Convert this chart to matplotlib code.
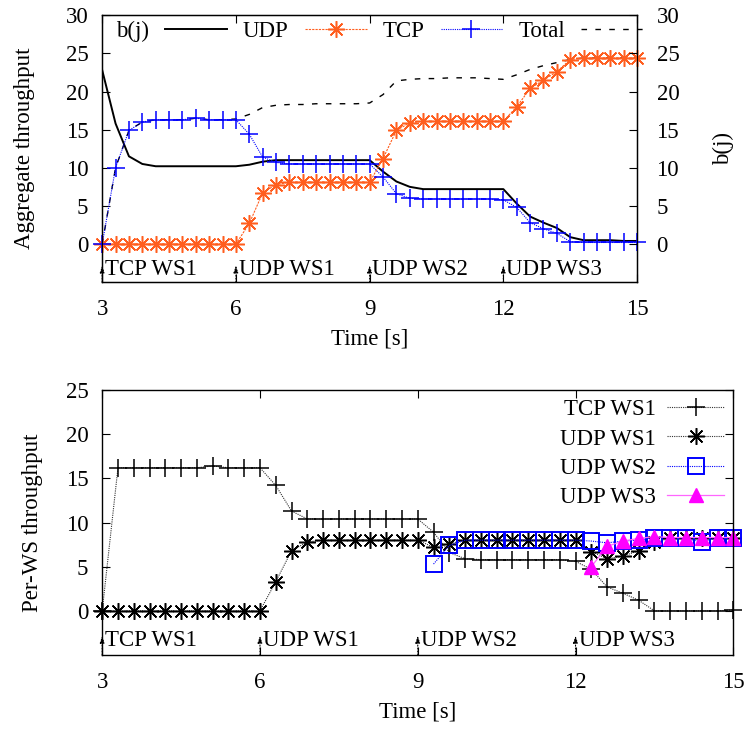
import numpy as np
import matplotlib
matplotlib.use("Agg")
import matplotlib.pyplot as plt

plt.rcParams['font.family'] = ['Liberation Serif', 'DejaVu Serif']
plt.rcParams['font.size'] = 16.5

# time samples [s]
t = np.linspace(3, 15, 41)

# aggregate throughput (top panel)
udp = [0, 0, 0, 0, 0, 0, 0, 0, 0, 0, 0,
       2.7, 6.7, 7.8, 8.1, 8.1, 8.1, 8.1, 8.1, 8.1, 8.1,
       11.2, 14.9, 15.9, 16.1, 16.1, 16.1, 16.1, 16.1, 16.1, 16.1,
       18.0, 20.4, 21.5, 22.6, 24.2, 24.4, 24.4, 24.4, 24.4, 24.4]
tcp = [0, 10.0, 14.9, 16.0, 16.3, 16.3, 16.3, 16.5, 16.3, 16.3, 16.3,
       14.4, 11.4, 10.7, 10.5, 10.5, 10.5, 10.5, 10.5, 10.5, 10.5,
       8.8, 6.6, 6.0, 5.9, 5.9, 5.9, 5.9, 5.9, 5.9, 5.8,
       4.8, 2.8, 2.0, 1.4, 0.3, 0.2, 0.2, 0.2, 0.2, 0.2]
bj = [22.8, 15.8, 11.5, 10.5, 10.2, 10.2, 10.2, 10.2, 10.2, 10.2, 10.2,
      10.4, 10.8, 11.0, 11.0, 11.0, 11.0, 11.0, 11.0, 11.0, 11.0,
      9.5, 8.2, 7.5, 7.2, 7.2, 7.2, 7.2, 7.2, 7.2, 7.2,
      5.3, 3.6, 2.8, 2.1, 0.9, 0.5, 0.5, 0.5, 0.4, 0.4]
total = [0, 10.0, 14.9, 16.0, 16.3, 16.3, 16.3, 16.5, 16.3, 16.3, 16.4,
         17.0, 17.9, 18.2, 18.3, 18.3, 18.4, 18.4, 18.4, 18.4, 18.5,
         19.6, 21.4, 21.6, 21.7, 21.7, 21.8, 21.8, 21.8, 21.7, 21.6,
         22.2, 22.9, 23.4, 23.8, 24.2, 24.4, 24.4, 24.4, 24.4, 24.4]

# per-WS throughput (bottom panel)
tcp_ws1 = [0, 16.2, 16.2, 16.2, 16.2, 16.2, 16.2, 16.4, 16.2, 16.2, 16.2,
           14.2, 11.3, 10.4, 10.4, 10.4, 10.4, 10.4, 10.4, 10.4, 10.4,
           8.9, 6.6, 5.9, 5.8, 5.8, 5.8, 5.8, 5.8, 5.8, 5.6,
           4.7, 2.7, 2.0, 1.2, 0, 0, 0, 0, 0, 0.1]
udp_ws1 = [0, 0, 0, 0, 0, 0, 0, 0, 0, 0, 0,
           3.3, 6.8, 7.8, 8.0, 8.0, 8.0, 8.0, 8.0, 8.0, 8.0,
           7.2, 7.6, 8.0, 8.0, 8.0, 8.0, 8.0, 8.0, 8.0, 8.0,
           6.7, 5.9, 6.2, 6.8, 7.8, 8.2, 8.2, 8.2, 8.2, 8.2]
udp_ws2 = [5.3, 7.4, 8.0, 8.0, 8.0, 8.0, 8.0, 8.0, 8.0, 8.0,
           7.9, 7.7, 7.9, 8.0, 8.3, 8.3, 8.2, 7.8, 8.3, 8.2]
udp_ws3 = [5.0, 7.3, 7.9, 8.2, 8.4, 8.3, 8.3, 8.3, 8.3, 8.3]

events = [3, 6, 9, 12]
event_labels = ["TCP WS1", "UDP WS1", "UDP WS2", "UDP WS3"]

orange = '#ff5e1f'
star = (8, 2, 0)   # gnuplot style asterisk (+ and x)


def events_marks(ax, ybase):
    for x, lab in zip(events, event_labels):
        ax.annotate("", xy=(x, -2.8), xytext=(x, -5),
                    arrowprops=dict(arrowstyle='-|>,head_length=0.25,head_width=0.08',
                                    color='black', lw=0.8, linestyle=':',
                                    shrinkA=0, shrinkB=0))
        ax.text(x + 0.06, ybase, lab, ha='left', va='baseline')


def style(ax):
    ax.tick_params(direction='in', length=6, width=0.8, top=True, right=True, pad=12)
    for s in ax.spines.values():
        s.set_linewidth(1.0)


fig = plt.figure(figsize=(7.46, 7.29), dpi=100)

# ---- top panel
ax1 = fig.add_axes([0.137, 0.613, 0.717, 0.366])
ax1.plot(t, bj, color='black', lw=1.4, label='b(j)')
ax1.plot(t, udp, color=orange, lw=0.8, ls=(0, (2, 1)), marker=star, ms=12,
         mew=1.1, clip_on=False, zorder=3, label='UDP')
ax1.plot(t, tcp, color='blue', lw=0.8, ls=(0, (1, 1)), marker='+', ms=13,
         mew=1.1, clip_on=False, zorder=3, label='TCP')
ax1.plot(t, total, color='black', lw=1.0, ls=(0, (4, 6)), label='Total')
ax1.set_xlim(3, 15)
ax1.set_ylim(-5, 30)
ax1.set_xticks([3, 6, 9, 12, 15])
ax1.set_yticks([0, 5, 10, 15, 20, 25, 30])
style(ax1)
ax1.tick_params(axis='y', pad=10)
ax1.set_xlabel("Time [s]", labelpad=6)
ax1.set_ylabel("Aggregate throughput", labelpad=22)
events_marks(ax1, -4.1)
ax1.legend(loc='upper left', bbox_to_anchor=(0.0, 1.03), ncol=4, frameon=False,
           markerfirst=False, handlelength=2.7, columnspacing=0.7,
           handletextpad=0.7, borderaxespad=0.2)

ax1r = ax1.twinx()
ax1r.set_ylim(-5, 30)
ax1r.set_yticks([0, 5, 10, 15, 20, 25, 30])
ax1r.tick_params(direction='in', length=6, width=0.8, pad=14)
ax1r.set_ylabel("b(j)", labelpad=24)

# ---- bottom panel
ax2 = fig.add_axes([0.137, 0.1015, 0.846, 0.3635])
ax2.plot(t, tcp_ws1, color='#333333', lw=0.8, ls=(0, (1, 1)), marker='+',
         ms=13, mew=1.1, mec='black', clip_on=False, label='TCP WS1')
ax2.plot(t, udp_ws1, color='#333333', lw=0.8, ls=(0, (1, 1)), marker=star,
         ms=12, mew=1.1, mec='black', clip_on=False, label='UDP WS1')
ax2.plot(t[21:], udp_ws2, color='blue', lw=0.8, ls=(0, (1, 1)), marker='s',
         ms=11, mew=1.4, mfc='none', mec='blue', clip_on=False, label='UDP WS2')
ax2.plot(t[31:], udp_ws3, color='#ff66ff', lw=0.9, marker='^', ms=10,
         mfc='#ff00ff', mec='#ff00ff', clip_on=False, label='UDP WS3')
ax2.set_xlim(3, 15)
ax2.set_ylim(-5, 25)
ax2.set_xticks([3, 6, 9, 12, 15])
ax2.set_yticks([0, 5, 10, 15, 20, 25])
style(ax2)
ax2.tick_params(axis='y', pad=10)
ax2.set_xlabel("Time [s]", labelpad=6)
ax2.set_ylabel("Per-WS throughput", labelpad=16)
events_marks(ax2, -4.0)
ax2.legend(loc='upper right', bbox_to_anchor=(1.0, 1.0), frameon=False,
           markerfirst=False, handlelength=2.5, handletextpad=0.5,
           labelspacing=0.36, borderaxespad=0.0)

fig.savefig("out.png", dpi=100)
